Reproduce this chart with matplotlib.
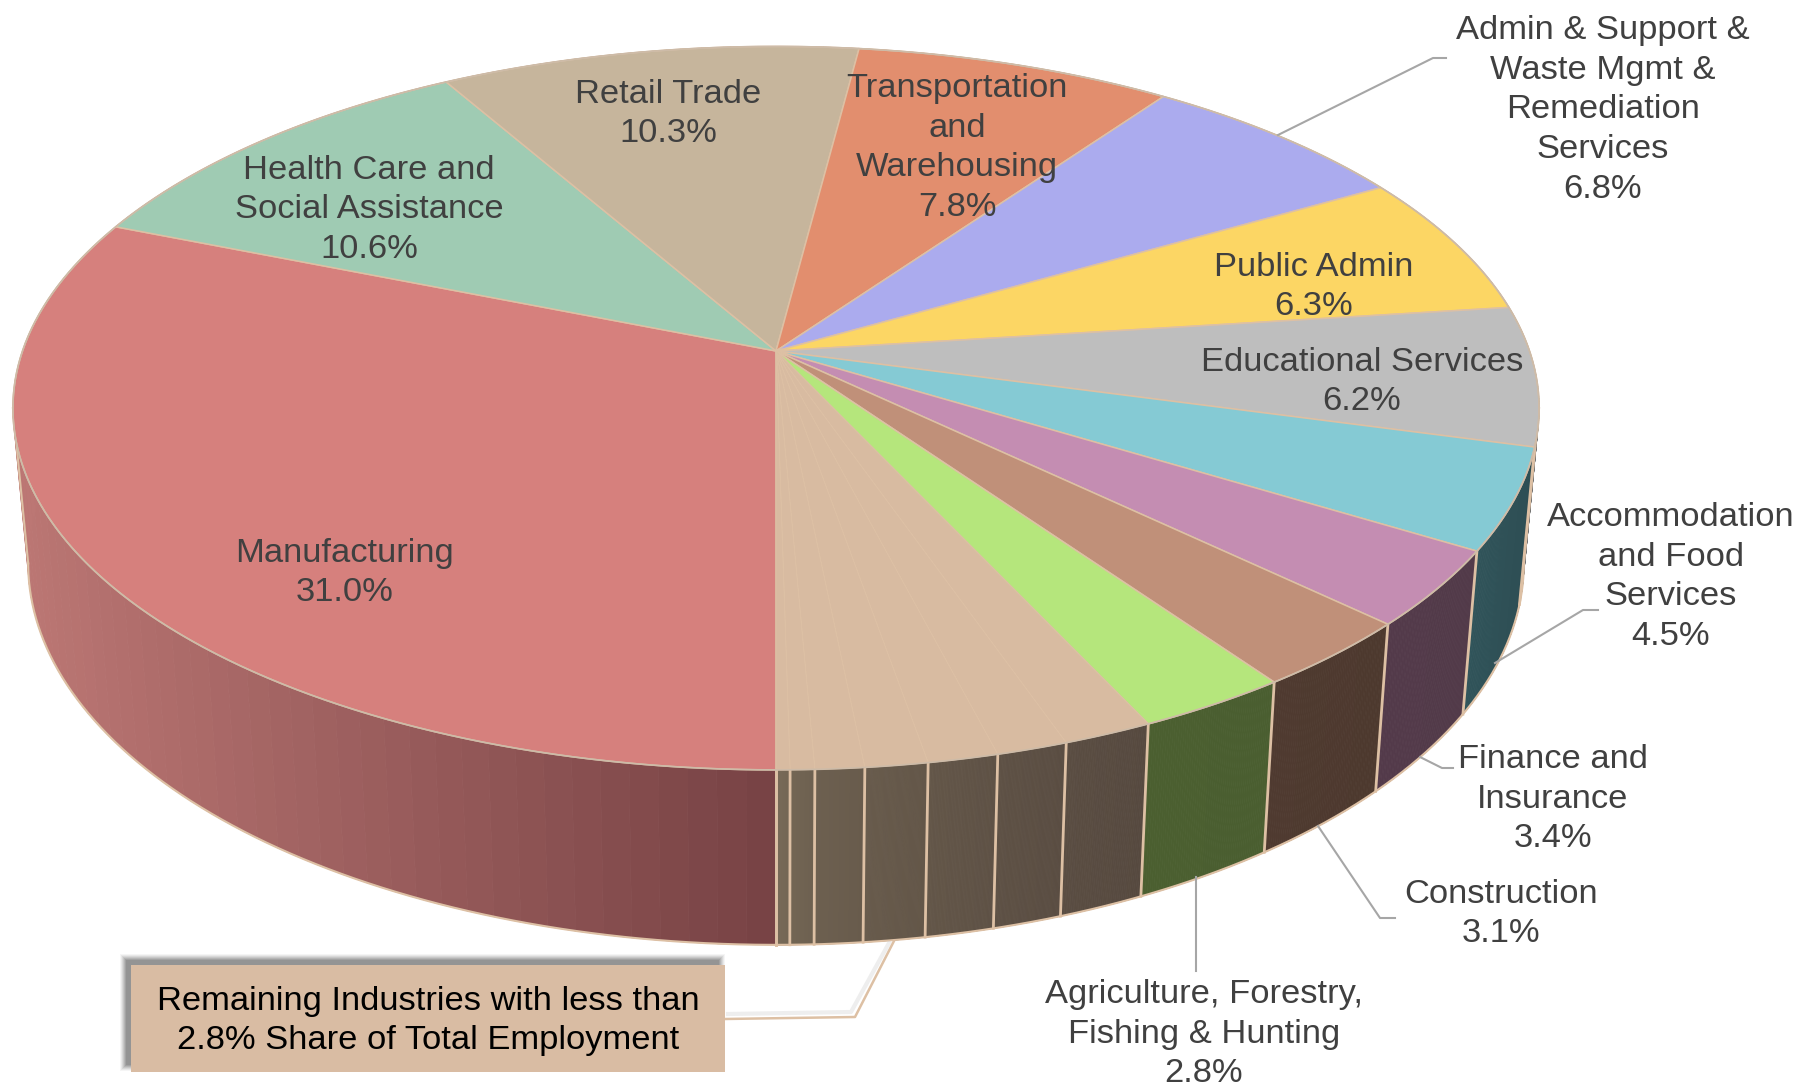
import numpy as np
import matplotlib
matplotlib.use("Agg")
import matplotlib.pyplot as plt
from matplotlib.collections import PolyCollection
from matplotlib.colors import to_rgb
from matplotlib.patches import Rectangle

plt.rcParams["font.family"] = ["Liberation Sans", "DejaVu Sans"]

# clockwise from straight down
industries = ["Manufacturing", "Health Care and\nSocial Assistance", "Retail Trade",
              "Transportation\nand\nWarehousing", "Admin & Support &\nWaste Mgmt &\nRemediation\nServices",
              "Public Admin", "Educational Services", "Accommodation\nand Food\nServices",
              "Finance and\nInsurance", "Construction", "Agriculture, Forestry,\nFishing & Hunting"]
shares = [31.0, 10.6, 10.3, 7.8, 6.8, 6.3, 6.2, 4.5, 3.4, 3.1, 2.8]
# unlabelled small industries
remaining = [1.64, 1.30, 1.28, 1.14, 0.89, 0.44, 0.25]

top_colors = ["#D6807D", "#9FCBB3", "#C6B59C", "#E28E6E", "#ABABEE", "#FCD664",
              "#BEBEBE", "#85CAD4", "#C48DB2", "#C09079", "#B5E67C"]
wall_start = ["#784345", "#5F7A6A", "#77695A", "#8A5540", "#66668E", "#96803A",
              "#6F6F6F", "#2E4E54", "#523A49", "#4D392E", "#4A5E30"]
wall_end = ["#BC7774", "#5F7A6A", "#77695A", "#8A5540", "#66668E", "#96803A",
            "#6F6F6F", "#30545A", "#533A4A", "#4F3A30", "#4B5F30"]
rest_color = "#D8BBA1"
rest_walls = ["#56493F", "#5A4D42", "#5E5145", "#635648", "#685B4C", "#6D6050", "#736654", "#786A58"]
edge_color = "#DDC0A4"

# label positions in picture pixels (centre of each text block)
label_x = [345, 369, 668, 957, 1603, 1314, 1362, 1671, 1553, 1501, 1204]
label_y = [573, 210, 114, 148, 110, 287, 382, 577, 799, 914, 1034]

cx, cy = 776, 351
a, b, k = 753.5, 352.7, 0.158
height_scale, height_shift, narrow = 1.0545, 133, 0.98


def top_xy(theta):
    u, v = -np.sin(theta), -np.cos(theta)
    w = 1 + k * v
    return cx + a * u / w, cy - b * v / w


def bottom_xy(theta):
    x, y = top_xy(theta)
    return cx + narrow * (x - cx), height_scale * y + height_shift


values = np.array(shares + remaining)
edges = np.concatenate([[0], np.cumsum(values)]) / values.sum() * 2 * np.pi
colors = top_colors + [rest_color] * len(remaining)
starts = wall_start + rest_walls[:-1]
ends = wall_end + rest_walls[1:]

fig = plt.figure(figsize=(18.16, 10.87), dpi=100)
ax = fig.add_axes([0, 0, 1, 1])
ax.set_xlim(0, 1816)
ax.set_ylim(1087, 0)
ax.axis("off")

# side wall, thin quads to get the shading (shade runs along screen x)
quads, quad_colors = [], []
for i in range(len(values)):
    th = np.linspace(edges[i], edges[i + 1], 60)
    xs = top_xy(th)[0]
    span = max(np.abs(xs - xs[0]).max(), 1)
    for j in range(len(th) - 1):
        x0, y0 = top_xy(th[j])
        x1, y1 = top_xy(th[j + 1])
        x2, y2 = bottom_xy(th[j + 1])
        x3, y3 = bottom_xy(th[j])
        quads.append([(x0, y0), (x1, y1), (x2, y2), (x3, y3)])
        t = abs(x0 - xs[0]) / span
        quad_colors.append(tuple((1 - t) * np.array(to_rgb(starts[i])) + t * np.array(to_rgb(ends[i]))))
ax.add_collection(PolyCollection(quads, facecolors=quad_colors, edgecolors=quad_colors, linewidths=0.6, zorder=1))

# separators and outline of the wall
limit = np.arccos(k)
for e in edges:
    e_wrapped = (e + np.pi) % (2 * np.pi) - np.pi
    if abs(e_wrapped) < limit:
        x0, y0 = top_xy(e)
        x1, y1 = bottom_xy(e)
        ax.plot([x0, x1], [y0, y1], color=edge_color, lw=2, zorder=2)
rim = np.linspace(-limit, limit, 300)
ax.plot(*bottom_xy(rim), color=edge_color, lw=1.5, zorder=2)
for s in [-limit, limit]:
    x0, y0 = top_xy(s)
    x1, y1 = bottom_xy(s)
    ax.plot([x0, x1], [y0, y1], color=edge_color, lw=1.5, zorder=2)

# top face
for i in range(len(values)):
    th = np.linspace(edges[i], edges[i + 1], 120)
    x, y = top_xy(th)
    ax.fill(np.r_[cx, x], np.r_[cy, y], facecolor=colors[i], edgecolor=edge_color,
            lw=1.1 if i < len(shares) else 0.7, zorder=3)
ring = np.linspace(0, 2 * np.pi, 600)
ax.plot(*top_xy(ring), color="#CDBBA8", lw=1.2, zorder=4)

# leader lines
gray = "#A6A6A6"
leaders = [([1278, 1433, 1446], [135, 58, 58]),
           ([1495, 1583, 1598], [663, 610, 610]),
           ([1420, 1442, 1453], [757, 768, 768]),
           ([1318, 1380, 1395], [826, 918, 918]),
           ([1196, 1196], [877, 971])]
for xs, ys in leaders:
    ax.plot(xs, ys, color=gray, lw=1.5, zorder=5)

# callout for the small industries
ax.plot([889, 851, 728], [943, 1012, 1014], color="#C8C8C8", lw=3, alpha=0.3, zorder=5)
ax.plot([894, 855, 725], [941, 1017, 1019], color=edge_color, lw=1.8, zorder=5)
for grow, alpha in [(5, 0.05), (4, 0.07), (3, 0.09), (2, 0.11), (1, 0.13), (0, 0.15), (-1, 0.15)]:
    ax.add_patch(Rectangle((125 - grow, 959 - grow), 595 + 2 * grow, 107 + 2 * grow,
                           facecolor="#404040", edgecolor="none", alpha=alpha, zorder=6))
ax.add_patch(Rectangle((131, 965), 594, 107, facecolor="#D9BCA3", edgecolor="none", zorder=7))
ax.text(428, 1021, "Remaining Industries with less than\n2.8% Share of Total Employment",
        ha="center", va="center", ma="center", fontsize=24.8, color="black", linespacing=1.365, zorder=8)

for name, share, x, y in zip(industries, shares, label_x, label_y):
    ax.text(x, y, f"{name}\n{share:.1f}%", ha="center", va="center", ma="center",
            fontsize=24.8, color="#404040", linespacing=1.365, zorder=8)

fig.savefig("out.png", dpi=100, facecolor="white")
